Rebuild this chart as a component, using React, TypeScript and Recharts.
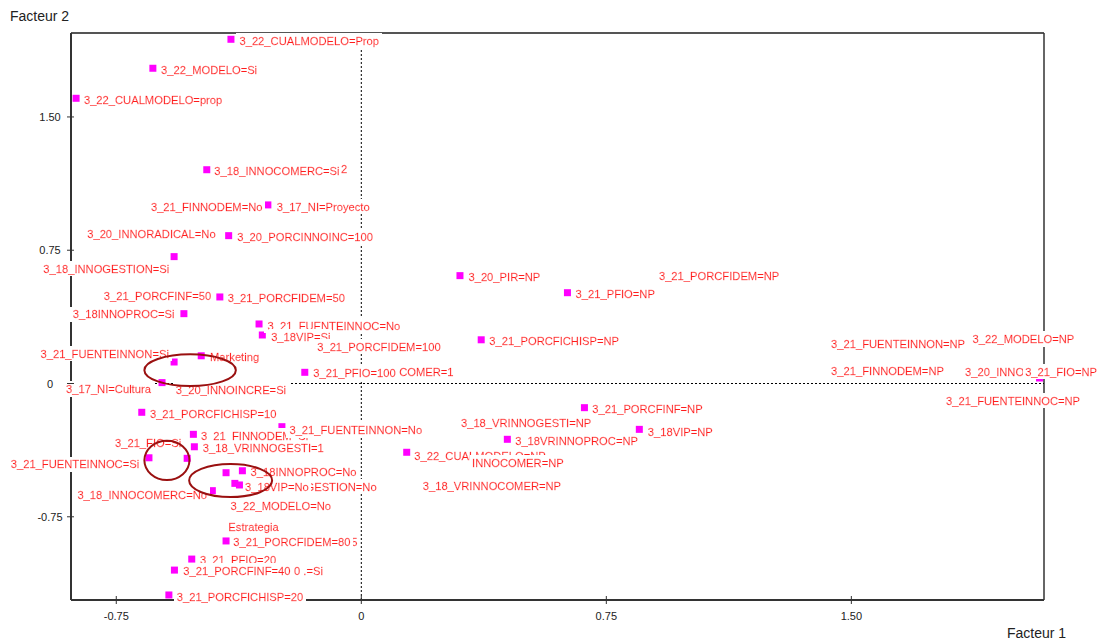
import { ScatterChart, Scatter, XAxis, YAxis, ReferenceLine, ReferenceArea } from 'recharts';

// plot frame (data units)
const X_MIN = -0.8886;
const X_MAX = 2.0897;
const Y_MIN = -1.2183;
const Y_MAX = 1.9724;

const xTicks = [-0.75, 0, 0.75, 1.5];
const yTicks = [-0.75, 0, 0.75, 1.5];

// category coordinates (factor 1, factor 2)
const points = [
  { x: -0.399, y: 1.937 },
  { x: -0.638, y: 1.774 },
  { x: -0.873, y: 1.605 },
  { x: -0.473, y: 1.203 },
  { x: -0.286, y: 1.005 },
  { x: -0.406, y: 0.832 },
  { x: -0.573, y: 0.714 },
  { x: -0.433, y: 0.487 },
  { x: -0.543, y: 0.393 },
  { x: -0.313, y: 0.335 },
  { x: -0.303, y: 0.273 },
  { x: -0.49, y: 0.156 },
  { x: -0.573, y: 0.121 },
  { x: -0.173, y: 0.063 },
  { x: -0.61, y: 0.005 },
  { x: 0.302, y: 0.607 },
  { x: 0.631, y: 0.511 },
  { x: 0.367, y: 0.246 },
  { x: 2.076, y: 0.031 },
  { x: -0.672, y: -0.162 },
  { x: -0.243, y: -0.243 },
  { x: -0.514, y: -0.286 },
  { x: -0.511, y: -0.356 },
  { x: -0.65, y: -0.418 },
  { x: -0.533, y: -0.421 },
  { x: -0.414, y: -0.502 },
  { x: -0.364, y: -0.491 },
  { x: -0.387, y: -0.562 },
  { x: -0.373, y: -0.571 },
  { x: -0.456, y: -0.603 },
  { x: -0.414, y: -0.886 },
  { x: -0.519, y: -0.988 },
  { x: -0.572, y: -1.05 },
  { x: -0.589, y: -1.19 },
  { x: 0.683, y: -0.136 },
  { x: 0.851, y: -0.258 },
  { x: 0.447, y: -0.314 },
  { x: 0.139, y: -0.387 },
];

// label anchors; order matters, later labels mask earlier ones
const labels = [
  { text: '3_22_CUALMODELO=Prop', x: -0.373, y: 1.93 },
  { text: '3_22_MODELO=Si', x: -0.613, y: 1.764 },
  { text: '3_22_CUALMODELO=prop', x: -0.849, y: 1.595 },
  { text: '3_18_INNOCOMERC=Si', x: -0.45, y: 1.194 },
  { text: '2', x: -0.062, y: 1.205 },
  { text: '3_21_FINNODEM=No', x: -0.644, y: 0.995 },
  { text: '3_17_NI=Proyecto', x: -0.259, y: 0.995 },
  { text: '3_20_INNORADICAL=No', x: -0.839, y: 0.841 },
  { text: '3_20_PORCINNOINC=100', x: -0.38, y: 0.824 },
  { text: '3_18_INNOGESTION=Si', x: -0.588, y: 0.646, side: 'left' },
  { text: '3_21_PORCFINF=50', x: -0.788, y: 0.494 },
  { text: '3_21_PORCFIDEM=50', x: -0.409, y: 0.479 },
  { text: '3_18INNOPROC=Si', x: -0.883, y: 0.389 },
  { text: '3_21_FUENTEINNOC=No', x: -0.287, y: 0.325 },
  { text: '3_18VIP=Si', x: -0.276, y: 0.263 },
  { text: '3_21_PORCFIDEM=100', x: -0.135, y: 0.207 },
  { text: '3_21_FUENTEINNON=Si', x: -0.589, y: 0.168, side: 'left' },
  { text: 'Marketing', x: -0.463, y: 0.151 },
  { text: 'COMER=1', x: 0.116, y: 0.063 },
  { text: '3_21_PFIO=100', x: -0.147, y: 0.057 },
  { text: '3_17_NI=Cultura', x: -0.644, y: -0.031, side: 'left' },
  { text: '3_20_INNOINCRE=Si', x: -0.568, y: -0.037 },
  { text: '3_20_PIR=NP', x: 0.328, y: 0.598 },
  { text: '3_21_PORCFIDEM=NP', x: 0.911, y: 0.605 },
  { text: '3_21_PFIO=NP', x: 0.656, y: 0.502 },
  { text: '3_21_PORCFICHISP=NP', x: 0.392, y: 0.241 },
  { text: '3_21_FUENTEINNON=NP', x: 1.438, y: 0.222 },
  { text: '3_22_MODELO=NP', x: 1.871, y: 0.25 },
  { text: '3_21_FINNODEM=NP', x: 1.438, y: 0.07 },
  { text: '3_20_INNOINCRE=NP', x: 1.848, y: 0.066 },
  { text: '3_21_FIO=NP', x: 2.032, y: 0.066 },
  { text: '3_21_FUENTEINNOC=NP', x: 1.79, y: -0.097 },
  { text: '3_21_PORCFICHISP=10', x: -0.647, y: -0.172 },
  { text: '3_21_FINNODEM=Si', x: -0.491, y: -0.294 },
  { text: '3_18_VRINNOGESTI=1', x: -0.485, y: -0.365 },
  { text: '3_21_FUENTEINNON=No', x: -0.22, y: -0.262 },
  { text: '3_21_FIO=Si', x: -0.754, y: -0.337 },
  { text: '3_21_FUENTEINNOC=Si', x: -0.68, y: -0.455, side: 'left' },
  { text: '3_18INNOPROC=No', x: -0.339, y: -0.496 },
  { text: '3_18_INNOGESTION=No', x: 0.047, y: -0.581, side: 'left' },
  { text: '3_18VIP=No', x: -0.356, y: -0.581 },
  { text: '3_18_INNOCOMERC=No', x: -0.869, y: -0.627 },
  { text: '3_22_MODELO=No', x: -0.4, y: -0.688 },
  { text: 'Estrategia', x: -0.407, y: -0.806 },
  { text: '95', x: -0.05, y: -0.894 },
  { text: '3_21_PORCFIDEM=80', x: -0.392, y: -0.894 },
  { text: '3_21_PFIO=20', x: -0.494, y: -0.993 },
  { text: '3_21_PORCFINF=40', x: -0.545, y: -1.053 },
  { text: '0 .=Si', x: -0.206, y: -1.053 },
  { text: '3_21_PORCFICHISP=20', x: -0.565, y: -1.2 },
  { text: '3_21_PORCFINF=NP', x: 0.707, y: -0.144 },
  { text: '3_18VIP=NP', x: 0.877, y: -0.271 },
  { text: '3_18_VRINNOGESTI=NP', x: 0.305, y: -0.224 },
  { text: '3_18VRINNOPROC=NP', x: 0.471, y: -0.322 },
  { text: '3_22_CUALMODELO=NP', x: 0.162, y: -0.408 },
  { text: 'INNOCOMER=NP', x: 0.339, y: -0.445 },
  { text: '3_18_VRINNOCOMER=NP', x: 0.188, y: -0.575 },
];

// hand-drawn groupings
const circles = [
  { x1: -0.664, x2: -0.384, y1: -0.014, y2: 0.164 },
  { x1: -0.664, x2: -0.526, y1: -0.543, y2: -0.322 },
  { x1: -0.527, x2: -0.273, y1: -0.639, y2: -0.453 },
];

const FONT = '"Liberation Sans", Arial, sans-serif';

const fmt = (v: number) => (v === 0 ? '0' : v.toFixed(2));

const Marker = (props: any) => {
  const { cx, cy } = props;
  return <rect x={cx - 3.5} y={cy - 3.5} width={7} height={7} fill="#ff00ff" />;
};

const PointLabel = (props: any) => {
  const { cx, cy, payload } = props;
  return (
    <text
      x={cx}
      y={cy}
      textAnchor={payload.side === 'left' ? 'end' : 'start'}
      dominantBaseline="central"
      fontSize={11.2}
      fontFamily={FONT}
      fill="#ff1c1c"
      stroke="#ff1c1c"
      strokeWidth={0.3}
      filter="url(#lblbg)"
    >
      {payload.text}
    </text>
  );
};

const YTick = (props: any) => {
  const { x, y, payload } = props;
  return (
    <g>
      <line x1={x - 4} x2={x + 3} y1={y} y2={y} stroke="#333" />
      <text x={x - 21} y={y} textAnchor="middle" dominantBaseline="central" fontSize={11} fontFamily={FONT} fill="#222">
        {fmt(payload.value)}
      </text>
    </g>
  );
};

const XTick = (props: any) => {
  const { x, y, payload } = props;
  return (
    <g>
      <line x1={x} x2={x} y1={y - 4} y2={y + 4} stroke="#333" />
      <text x={x} y={y + 16} textAnchor="middle" dominantBaseline="central" fontSize={11} fontFamily={FONT} fill="#222">
        {fmt(payload.value)}
      </text>
    </g>
  );
};

const Ellipse = (props: any) => {
  const { x, y, width, height } = props;
  return (
    <ellipse
      cx={x + width / 2}
      cy={y + height / 2}
      rx={Math.abs(width) / 2}
      ry={Math.abs(height) / 2}
      fill="none"
      stroke="#9a1010"
      strokeWidth={2}
    />
  );
};

export default function App() {
  return (
    <div style={{ position: 'absolute', left: 0, top: 0, width: 1106, height: 641, background: '#fff' }}>
      <svg width={0} height={0} style={{ position: 'absolute' }}>
        <defs>
          <filter id="lblbg" x="-0.02" y="-0.1" width="1.04" height="1.2">
            <feFlood floodColor="#ffffff" />
            <feComposite in="SourceGraphic" operator="over" />
          </filter>
        </defs>
      </svg>
      <div style={{ position: 'absolute', left: 10, top: 8, fontFamily: FONT, fontSize: 14, color: '#222', lineHeight: '16px' }}>
        Facteur 2
      </div>
      <div style={{ position: 'absolute', left: 1007, top: 625, fontFamily: FONT, fontSize: 14, color: '#222', lineHeight: '16px' }}>
        Facteur 1
      </div>
      <ScatterChart width={1106} height={641} margin={{ top: 33, right: 62, bottom: 11, left: 21 }}>
        <XAxis
          type="number"
          dataKey="x"
          domain={[X_MIN, X_MAX]}
          ticks={xTicks}
          height={30}
          tickSize={0}
          tickMargin={0}
          tickLine={false}
          tick={<XTick />}
          axisLine={{ stroke: '#333', strokeWidth: 2 }}
          interval={0}
        />
        <YAxis
          type="number"
          dataKey="y"
          domain={[Y_MIN, Y_MAX]}
          ticks={yTicks}
          width={50}
          tickSize={0}
          tickMargin={0}
          tickLine={false}
          tick={<YTick />}
          axisLine={{ stroke: '#333', strokeWidth: 2 }}
          interval={0}
        />
        <ReferenceLine y={Y_MAX} stroke="#555" strokeWidth={2} />
        <ReferenceLine x={X_MAX} stroke="#333" strokeWidth={1.5} />
        <ReferenceLine x={0} stroke="#000" strokeDasharray="2 2" />
        <ReferenceLine y={0} stroke="#000" strokeDasharray="2 2" />
        <Scatter data={points} shape={<Marker />} isAnimationActive={false} />
        <Scatter data={labels} shape={<PointLabel />} isAnimationActive={false} />
        {circles.map((c, i) => (
          <ReferenceArea
            key={i}
            x1={c.x1}
            x2={c.x2}
            y1={c.y1}
            y2={c.y2}
            shape={<Ellipse />}
            ifOverflow="visible"
            zIndex={3000}
          />
        ))}
      </ScatterChart>
    </div>
  );
}
